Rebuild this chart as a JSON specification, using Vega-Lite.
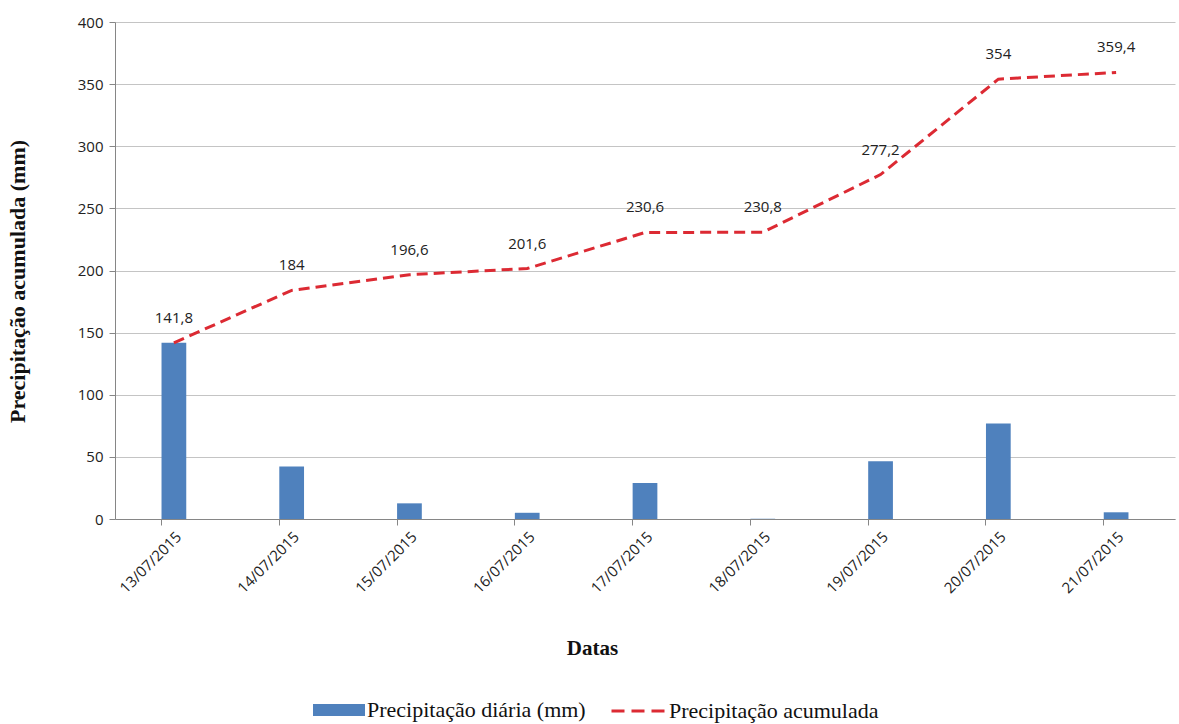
{
  "$schema": "https://vega.github.io/schema/vega-lite/v6.json",
  "width": 1060,
  "height": 497,
  "autosize": {"type": "none"},
  "padding": {"left": 115, "top": 22, "right": 4, "bottom": 205},
  "background": "white",
  "config": {
    "locale": {"number": {"decimal": ",", "thousands": ".", "grouping": [3], "currency": ["R$", ""]}},
    "view": {"stroke": null},
    "axis": {"labelFont": "Open Sans", "labelFontSize": 15, "labelColor": "#222222", "titleFont": "Liberation Serif", "titleFontWeight": "bold", "titleColor": "#111111", "domainColor": "#868686", "tickColor": "#868686", "gridColor": "#c4c4c4"},
    "legend": {"padding": 0, "labelLimit": 0}
  },
  "data": {"values": [
    {"data": "13/07/2015", "diaria": 141.8, "acumulada": 141.8, "s1": "Precipitação diária (mm)", "s2": "Precipitação acumulada"},
    {"data": "14/07/2015", "diaria": 42.2, "acumulada": 184, "s1": "Precipitação diária (mm)", "s2": "Precipitação acumulada"},
    {"data": "15/07/2015", "diaria": 12.6, "acumulada": 196.6, "s1": "Precipitação diária (mm)", "s2": "Precipitação acumulada"},
    {"data": "16/07/2015", "diaria": 5, "acumulada": 201.6, "s1": "Precipitação diária (mm)", "s2": "Precipitação acumulada"},
    {"data": "17/07/2015", "diaria": 29, "acumulada": 230.6, "s1": "Precipitação diária (mm)", "s2": "Precipitação acumulada"},
    {"data": "18/07/2015", "diaria": 0.2, "acumulada": 230.8, "s1": "Precipitação diária (mm)", "s2": "Precipitação acumulada"},
    {"data": "19/07/2015", "diaria": 46.4, "acumulada": 277.2, "s1": "Precipitação diária (mm)", "s2": "Precipitação acumulada"},
    {"data": "20/07/2015", "diaria": 76.8, "acumulada": 354, "s1": "Precipitação diária (mm)", "s2": "Precipitação acumulada"},
    {"data": "21/07/2015", "diaria": 5.4, "acumulada": 359.4, "s1": "Precipitação diária (mm)", "s2": "Precipitação acumulada"}
  ]},
  "encoding": {
    "x": {
      "field": "data", "type": "ordinal", "sort": null,
      "scale": {"paddingInner": 0.79, "paddingOuter": 0.395},
      "axis": {"title": "Datas", "titleFontSize": 21, "labelAngle": -45, "bandPosition": 0, "tickSize": 6, "labelPadding": 4, "titleX": 477, "titleY": 118, "grid": false}
    }
  },
  "layer": [
    {
      "mark": {"type": "bar"},
      "encoding": {
        "y": {
          "field": "diaria", "type": "quantitative",
          "scale": {"domain": [0, 400], "nice": false},
          "axis": {"title": "Precipitação acumulada (mm)", "titleFontSize": 22, "values": [0, 50, 100, 150, 200, 250, 300, 350, 400], "tickSize": 6, "labelPadding": 6, "titleX": -86, "titleY": 259, "format": "d"}
        },
        "color": {
          "field": "s1", "type": "nominal",
          "scale": {"range": ["#4f81bd"]},
          "legend": {"title": null, "orient": "none", "legendX": 198, "legendY": 662, "symbolType": "M-1,-0.23H1V0.23H-1Z", "symbolSize": 2704, "labelFont": "Liberation Serif", "labelFontSize": 22, "labelColor": "#111111", "symbolOpacity": 1, "symbolStrokeWidth": 0, "labelOffset": 2}
        }
      }
    },
    {
      "mark": {"type": "line", "strokeWidth": 3, "strokeDash": [11, 6]},
      "encoding": {
        "y": {"field": "acumulada", "type": "quantitative"},
        "color": {
          "field": "s2", "type": "nominal",
          "scale": {"range": ["#dc2a33"]},
          "legend": {"title": null, "orient": "none", "legendX": 495, "legendY": 661, "symbolType": "stroke", "symbolStrokeWidth": 3, "symbolDash": [13, 7], "symbolSize": 2809, "labelFont": "Liberation Serif", "labelFontSize": 22, "labelColor": "#111111", "labelOffset": 3}
        }
      }
    },
    {
      "mark": {"type": "text", "dy": -25, "font": "Open Sans", "fontSize": 15, "color": "#222222"},
      "encoding": {
        "y": {"field": "acumulada", "type": "quantitative"},
        "text": {"field": "acumulada", "type": "quantitative", "format": ".1~f"}
      }
    }
  ],
  "resolve": {"scale": {"color": "independent"}}
}
